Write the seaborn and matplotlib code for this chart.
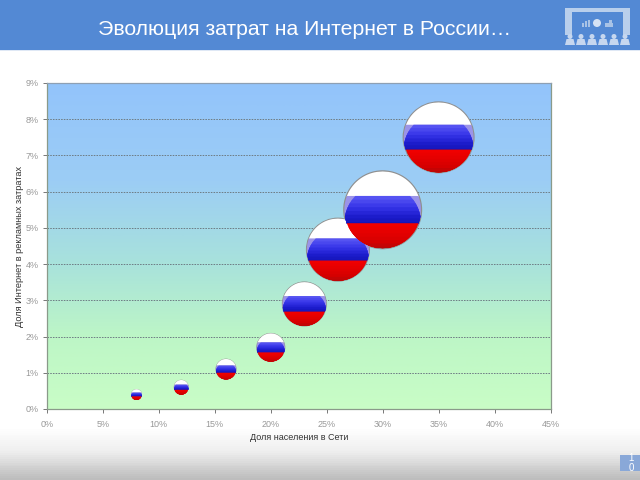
import numpy as np
import matplotlib
matplotlib.use("Agg")
import matplotlib.pyplot as plt
from matplotlib.path import Path
from matplotlib.colors import LinearSegmentedColormap
from matplotlib.patches import Rectangle, Polygon
import seaborn as sns

# ---- data ----
internet_share = [8, 12, 16, 20, 23, 26, 30, 35]
ad_share = [0.4, 0.6, 1.1, 1.7, 2.9, 4.4, 5.5, 7.5]
bubble_diam = [11, 15, 21, 29, 45, 64, 79, 72]
x_ticks = [0, 5, 10, 15, 20, 25, 30, 35, 40, 45]
y_ticks = [0, 1, 2, 3, 4, 5, 6, 7, 8, 9]
title = "Эволюция затрат на Интернет в России…"
x_label = "Доля населения в Сети"
y_label = "Доля Интернет в рекламных затратах"
page = "1\n0"

sns.set_theme(style="white")
plt.rcParams["font.family"] = ["Liberation Sans", "DejaVu Sans"]

fig = plt.figure(figsize=(6.4, 4.8), dpi=100)

# ---- slide background in pixel coordinates ----
bg = fig.add_axes([0, 0, 1, 1])
bg.set_xlim(0, 640)
bg.set_ylim(480, 0)
bg.axis("off")
slide_cmap = LinearSegmentedColormap.from_list(
    "slide", [(0, "#ffffff"), (0.895, "#ffffff"), (0.945, "#eeeeee"), (1, "#bdbdbd")])
bg.imshow(np.linspace(0, 1, 480)[:, None], extent=(0, 640, 480, 0), cmap=slide_cmap,
          aspect="auto", zorder=0)
bg.add_patch(Rectangle((0, 0), 640, 50, color="#5389d4", lw=0, zorder=1))
bg.add_patch(Rectangle((0, 50), 640, 1.2, color="#dfe8f5", lw=0, zorder=1))
bg.text(98, 29.5, title, color="white", fontsize=15.3, va="center", ha="left", zorder=3)

# header icon: screen and audience
icon = "#b9cfec"
for r in [(565, 8, 7, 27), (623, 8, 7, 27), (565, 8, 65, 4)]:
    bg.add_patch(Rectangle(r[:2], r[2], r[3], color=icon, lw=0, zorder=2))
for cx in (570, 581, 592, 603, 614, 625):
    bg.add_patch(Polygon([(cx - 5, 45), (cx + 5, 45), (cx + 3.5, 39), (cx - 3.5, 39)],
                         color="#c6d7ef", lw=0, zorder=2))
    bg.add_patch(plt.Circle((cx, 36.5), 2.5, color="#c6d7ef", lw=0, zorder=2))
for r in [(582, 23, 2, 4), (585, 21, 2, 6), (588, 20, 2, 7), (605, 23, 8, 4), (609, 20, 3, 5)]:
    bg.add_patch(Rectangle(r[:2], r[2], r[3], color="#a9c3e6", lw=0, zorder=2))
bg.add_patch(plt.Circle((597, 23), 4, color="#d5e2f4", lw=0, zorder=2))

# page number box
bg.add_patch(Rectangle((620, 455), 20, 16, color="#89a8d8", lw=0, zorder=2))
bg.text(631, 463, page, color="white", fontsize=7, ha="center", va="center",
        linespacing=1.05, zorder=3)

# ---- chart axes ----
L, R, T, B = 47, 550.5, 83, 409
ax = fig.add_axes([L / 640, 1 - B / 480, (R - L) / 640, (B - T) / 480])
ax.patch.set_alpha(0)
grad = LinearSegmentedColormap.from_list(
    "plot", [(0, "#93c4fb"), (0.3, "#9ccdf5"), (0.55, "#a8e2dc"), (0.78, "#bdf6c6"), (1, "#c9fdc6")])

xs = np.array(internet_share, float)
ys = np.array(ad_share, float)
ss = (np.array(bubble_diam, float) * 0.72) ** 2


def bubble_layer(marker, color):
    sns.scatterplot(x=xs, y=ys, size=ss, sizes=(ss.min(), ss.max()), marker=marker,
                    color=color, edgecolor="none", linewidth=0, legend=False,
                    clip_on=False, ax=ax, zorder=5)


def band(y_top, y_bot, width=None):
    """Slice of a flag disc; the lone first vertex keeps the marker's unit scale."""
    rad = 0.97
    yy = np.linspace(y_top, y_bot, 60)
    w = np.sqrt(np.clip(rad ** 2 - yy ** 2, 0, None))
    if width is not None:
        w = np.minimum(w, width(yy))
    verts = np.concatenate([[(1, 0)], np.c_[w, yy], np.c_[-w[::-1], yy[::-1]], [(0, 0)]])
    codes = [Path.MOVETO, Path.MOVETO] + [Path.LINETO] * (2 * len(yy) - 1) + [Path.CLOSEPOLY]
    return Path(verts, codes)


def gloss(yy):
    return 0.97 * np.sqrt(np.clip(1 - (yy + 0.35) ** 2, 0, None))


ax.imshow(np.linspace(0, 1, 300)[:, None], extent=(0, 45, 0, 9), cmap=grad,
          aspect="auto", zorder=0, origin="upper")

blue_ramp = LinearSegmentedColormap.from_list("b", ["#5553f2", "#3634e8", "#1c1ccc", "#1212b4"])
red_ramp = LinearSegmentedColormap.from_list("r", ["#f00000", "#e40000", "#d60000", "#b00a0a"])

bubble_layer("o", "#8f8f8f")
bubble_layer(band(0.97, 0.33), "#ffffff")
bubble_layer(band(0.35, -0.35), "#9b93e8")
for t in np.linspace(0, 0.95, 8):
    bubble_layer(band(0.35 - 0.7 * t, -0.35, gloss), blue_ramp(t))
for t in np.linspace(0, 0.95, 8):
    bubble_layer(band(-0.34 - 0.63 * t, -0.97), red_ramp(t))

ax.set_xlim(0, 45)
ax.set_ylim(0, 9)
ax.set_xticks(x_ticks)
ax.set_xticklabels([f"{v}%" for v in x_ticks])
ax.set_yticks(y_ticks)
ax.set_yticklabels([f"{v}%" for v in y_ticks])
ax.grid(False)
for v in y_ticks[1:]:
    ax.axhline(v, color="#6e7c84", lw=0.7, ls=(0, (1.6, 1.2)), zorder=1)
for name, sp in ax.spines.items():
    sp.set_color("#8a9a8a")
    sp.set_linewidth(0.9)
ax.spines["top"].set_color("#8ea0b4")
ax.tick_params(axis="x", length=3, width=0.7, color="#777777", labelsize=6.5,
               labelcolor="#999999", pad=5, bottom=True)
ax.tick_params(axis="y", length=3, width=0.7, color="#777777", labelsize=6.5,
               labelcolor="#999999", pad=3, left=True)
ax.set_xlabel(x_label, fontsize=6.5, color="#333333")
ax.set_ylabel(y_label, fontsize=6.6, color="#333333")
ax.xaxis.set_label_coords(0.5, -0.075)
ax.yaxis.set_label_coords(-0.046, 0.5)

fig.savefig("out.png", dpi=100)
